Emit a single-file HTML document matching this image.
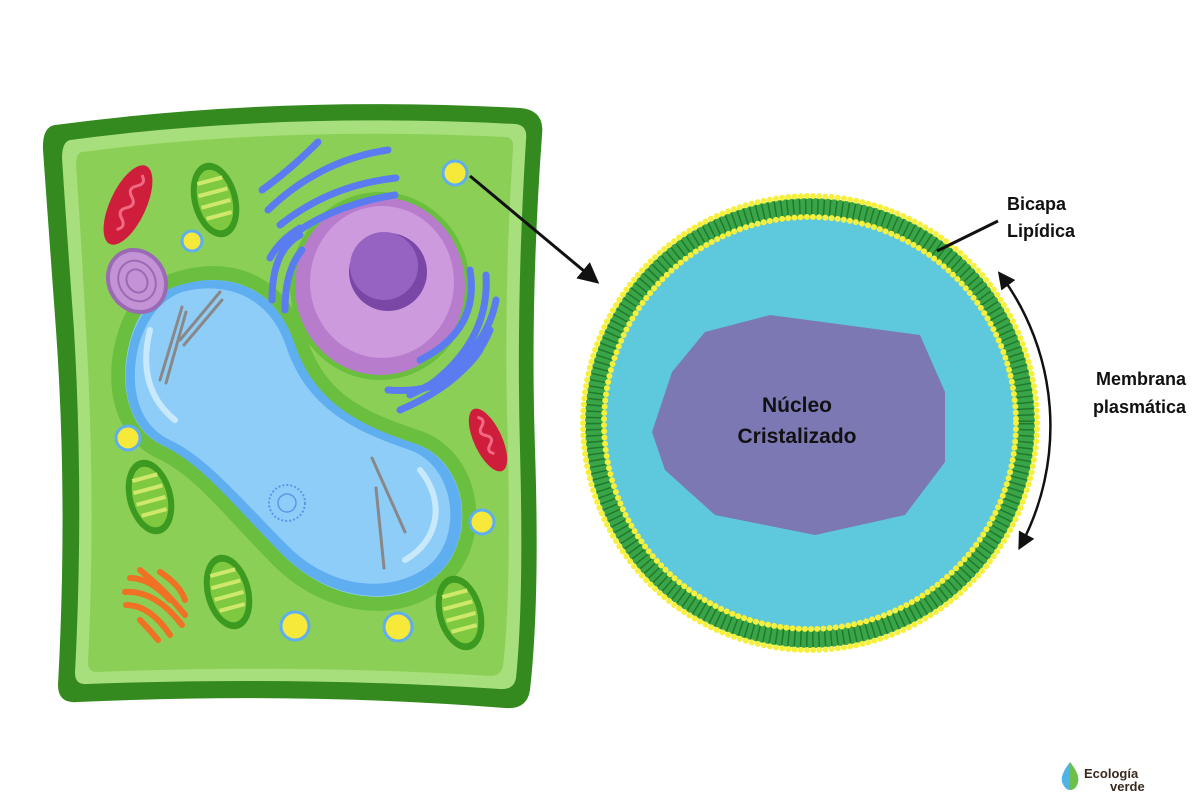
<!DOCTYPE html>
<html><head><meta charset="utf-8"><style>
html,body{margin:0;padding:0;background:#fff;}
svg{display:block;}
text{font-family:"Liberation Sans",Arial,sans-serif;font-weight:bold;fill:#111;}
</style></head><body>
<svg width="1200" height="800" viewBox="0 0 1200 800" xmlns="http://www.w3.org/2000/svg">
<defs>
<marker id="ah" viewBox="0 0 10 10" refX="8" refY="5" markerWidth="7" markerHeight="7" orient="auto-start-reverse"><path d="M0,0 L10,5 L0,10 Z" fill="#111"/></marker>
</defs>
<!-- CELL -->
<path d="M55,125 Q280,95 520,108 Q545,110 542,135 Q530,300 535,450 Q540,600 530,690 Q527,710 505,708 Q300,692 78,702 Q58,704 58,685 Q68,500 56,330 Q48,220 43,150 Q42,127 55,125 Z" fill="#348a1f"/>
<path d="M70,140 Q280,112 515,124 Q528,125 526,140 Q516,300 520,450 Q524,600 516,678 Q514,690 500,689 Q300,676 87,684 Q75,685 75,673 Q84,500 74,330 Q66,220 62,158 Q62,142 70,140 Z" fill="#a8df7d"/>
<path d="M82,152 Q280,126 506,137 Q514,138 513,148 Q503,300 508,450 Q511,600 503,666 Q501,676 490,676 Q300,664 97,672 Q88,672 88,662 Q96,500 86,330 Q80,220 76,165 Q76,153 82,152 Z" fill="#8ccf56"/>
<!-- vacuole -->
<path d="M180,278 C235,262 282,285 300,340 C320,400 360,418 420,438 C478,460 485,545 440,582 C398,617 328,610 278,560 C230,512 200,470 160,452 C118,432 112,380 123,340 C133,300 158,284 180,278 Z" fill="#8dd0f7" stroke="#6bbf3f" stroke-width="14"/>
<path d="M180,285 C232,270 276,290 294,342 C314,402 356,424 416,444 C470,464 476,542 436,576 C396,608 330,602 282,554 C234,506 204,466 164,446 C126,428 120,382 130,344 C140,306 162,290 180,285 Z" fill="#5eaef0"/>
<path d="M182,292 C228,280 270,298 286,346 C306,406 350,430 410,450 C458,468 462,540 428,566 C392,594 332,590 288,546 C240,498 208,458 170,440 C136,424 130,384 138,348 C148,312 166,298 182,292 Z" fill="#8fcdf9"/>
<path d="M150,330 C140,370 150,400 175,420" stroke="#c8e9fc" stroke-width="6" fill="none" stroke-linecap="round"/>
<path d="M420,470 C445,500 440,540 405,560" stroke="#c8e9fc" stroke-width="6" fill="none" stroke-linecap="round"/>
<circle cx="287" cy="503" r="18" fill="none" stroke="#5e94e8" stroke-width="2" stroke-dasharray="2 2"/>
<circle cx="287" cy="503" r="9" fill="none" stroke="#5e94e8" stroke-width="1.5"/>
<g stroke="#888" stroke-width="3" stroke-linecap="round">
<line x1="160" y1="380" x2="182" y2="307"/><line x1="166" y1="383" x2="186" y2="312"/>
<line x1="180" y1="340" x2="220" y2="292"/><line x1="184" y1="345" x2="222" y2="300"/>
<line x1="372" y1="458" x2="405" y2="532"/><line x1="376" y1="488" x2="384" y2="568"/>
</g>
<!-- nucleus -->
<ellipse cx="380" cy="286" rx="90" ry="94" fill="#6bbf3f"/>
<ellipse cx="380" cy="286" rx="85" ry="89" fill="#b77ccc"/>
<ellipse cx="382" cy="282" rx="72" ry="76" fill="#cc9add"/>
<circle cx="388" cy="272" r="39" fill="#7a47a6"/>
<circle cx="384" cy="266" r="34" fill="#9663c2"/>
<!-- ER -->
<g stroke="#5b7cf0" stroke-width="7" fill="none" stroke-linecap="round">
<path d="M262,190 Q290,170 318,142"/><path d="M268,210 Q320,160 388,150"/><path d="M280,225 Q330,185 396,178"/>
<path d="M286,240 Q330,205 395,195"/><path d="M270,258 Q280,240 300,228"/><path d="M272,300 Q272,250 300,235"/>
<path d="M285,310 Q285,270 302,250"/>
<path d="M470,270 Q480,330 420,360"/><path d="M486,275 Q490,340 430,385"/><path d="M496,300 Q485,360 410,395"/>
<path d="M490,330 Q470,380 400,410"/><path d="M480,350 Q450,395 388,390"/>
</g>
<!-- organelles -->
<g transform="rotate(25 128 205)"><ellipse cx="128" cy="205" rx="18" ry="43" fill="#cf1e3c"/><path d="M128,172 q8,6 0,12 q-8,6 0,12 q8,6 0,12 q-8,6 0,12 q8,6 0,12" stroke="#f06a84" stroke-width="3" fill="none"/></g>
<g transform="rotate(-25 488 440)"><ellipse cx="488" cy="440" rx="14" ry="34" fill="#cf1e3c"/><path d="M488,415 q7,5 0,10 q-7,5 0,10 q7,5 0,10 q-7,5 0,10" stroke="#f06a84" stroke-width="3" fill="none"/></g>
<g id="ch1" transform="rotate(-15 215 200)"><ellipse cx="215" cy="200" rx="23" ry="38" fill="#3d9a20"/><ellipse cx="215" cy="200" rx="17" ry="31" fill="#7fc940"/><g stroke="#cde86a" stroke-width="4"><line x1="202" y1="180" x2="228" y2="180"/><line x1="200" y1="192" x2="230" y2="192"/><line x1="200" y1="204" x2="230" y2="204"/><line x1="202" y1="216" x2="228" y2="216"/></g></g>
<use href="#ch1" transform="translate(-65 297)"/>
<use href="#ch1" transform="translate(13 392)"/>
<use href="#ch1" transform="translate(245 413)"/>
<g transform="rotate(-30 137 281)"><ellipse cx="137" cy="281" rx="30" ry="34" fill="#9a6ab5"/><ellipse cx="137" cy="281" rx="26" ry="30" fill="#c493d6"/><ellipse cx="137" cy="281" rx="18" ry="21" fill="none" stroke="#9a6ab5" stroke-width="2"/><ellipse cx="137" cy="281" rx="10" ry="12" fill="none" stroke="#9a6ab5" stroke-width="2"/></g>
<g fill="#f7e93a" stroke="#5eaef0" stroke-width="3">
<circle cx="455" cy="173" r="12"/><circle cx="192" cy="241" r="10"/><circle cx="128" cy="438" r="12"/>
<circle cx="482" cy="522" r="12"/><circle cx="295" cy="626" r="14"/><circle cx="398" cy="627" r="14"/>
</g>
<g stroke="#f07024" stroke-width="6" fill="none" stroke-linecap="round">
<path d="M130,578 Q150,578 170,600"/><path d="M125,592 Q155,590 182,625"/><path d="M126,605 Q150,605 170,635"/>
<path d="M140,570 Q165,590 185,615"/><path d="M160,572 Q180,585 185,600"/><path d="M140,620 Q150,630 158,640"/>
</g>
<!-- arrow -->
<line x1="470" y1="176" x2="596" y2="281" stroke="#111" stroke-width="3" marker-end="url(#ah)"/>
<!-- big circle -->
<circle cx="810" cy="423" r="216" fill="#5ec8dc"/>
<circle cx="810" cy="423" r="216" fill="none" stroke="#3aa548" stroke-width="18"/>
<circle cx="810" cy="423" r="216" fill="none" stroke="#1f7a2c" stroke-width="16" stroke-dasharray="1.5 4.6"/>
<circle cx="810" cy="423" r="227" fill="none" stroke="#f6f03c" stroke-width="6" stroke-dasharray="0 6.2" stroke-linecap="round"/>
<circle cx="810" cy="423" r="206" fill="none" stroke="#f6f03c" stroke-width="6" stroke-dasharray="0 6.2" stroke-linecap="round"/>
<path d="M705,332 L770,315 L920,335 L945,392 L945,462 L905,515 L815,535 L715,515 L665,470 L652,432 L672,372 Z" fill="#7b78b4"/>
<text x="797" y="412" font-size="21" text-anchor="middle">Núcleo</text>
<text x="797" y="443" font-size="21" text-anchor="middle">Cristalizado</text>
<!-- labels -->
<line x1="937" y1="251" x2="998" y2="221" stroke="#111" stroke-width="3"/>
<text x="1007" y="210" font-size="18">Bicapa</text>
<text x="1007" y="237" font-size="18">Lipídica</text>
<path d="M1000,274 A255,255 0 0 1 1020,547" stroke="#111" stroke-width="2.5" fill="none" marker-start="url(#ah)" marker-end="url(#ah)"/>
<text x="1186" y="385" font-size="18" text-anchor="end">Membrana</text>
<text x="1186" y="413" font-size="18" text-anchor="end">plasmática</text>
<!-- logo -->
<path d="M1070,762 Q1060,775 1062,782 Q1065,790 1070,790 Q1076,790 1078,782 Q1080,775 1070,762 Z" fill="#4fb3e6"/>
<path d="M1070,762 Q1080,775 1078,782 Q1076,790 1070,790 Z" fill="#6cc04a"/>
<text x="1084" y="778" font-size="13" style="fill:#3a2a1e">Ecología</text>
<text x="1110" y="791" font-size="13" style="fill:#3a2a1e">verde</text>
</svg>
</body></html>
